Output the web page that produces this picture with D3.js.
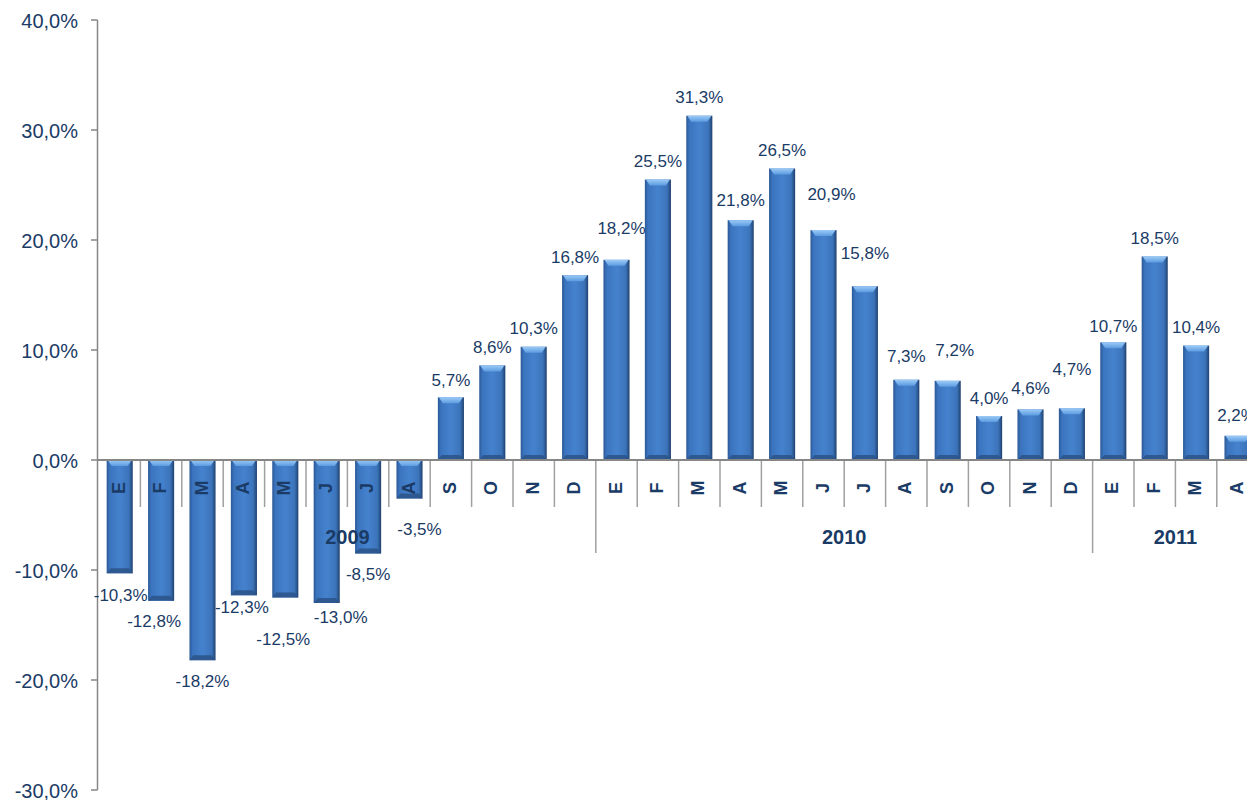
<!DOCTYPE html>
<html>
<head>
<meta charset="utf-8">
<script src="https://cdn.jsdelivr.net/npm/d3@7"></script>
<style>
  html, body { margin: 0; padding: 0; background: #fff; }
  svg { display: block; }
  text { font-family: "Liberation Sans", Arial, sans-serif; }
</style>
</head>
<body>
<svg id="chart" width="1247" height="800"></svg>
<script>
// ---- data ----
const months = ["E","F","M","A","M","J","J","A","S","O","N","D",
                "E","F","M","A","M","J","J","A","S","O","N","D",
                "E","F","M","A"];
const values = [-10.3,-12.8,-18.2,-12.3,-12.5,-13.0,-8.5,-3.5,5.7,8.6,10.3,16.8,
                18.2,25.5,31.3,21.8,26.5,20.9,15.8,7.3,7.2,4.0,4.6,4.7,
                10.7,18.5,10.4,2.2];
const years = ["2009","2010","2011"];
const yearSpans = [12,12,4];
const yTicks = [-30,-20,-10,0,10,20,30,40];
// manual label nudges (layout only) [dx, dy]
const labelNudge = [[1,1],[-7,0],[0,0],[-2,-9],[-2,21],[14,-7],[0,0],[10,10],
                    [0,1],[0,0],[0,0],[0,0],
                    [5,-13],[0,0],[0,0],[0,-2],[0,0],[8,-18],[0,-15],[0,-5],[7,-12],[0,0],[0,-3],[0,-21],
                    [0,2],[0,0],[0,0],[-1,-2]];

const fmt = v => v.toFixed(1).replace(".", ",") + "%";

const svg = d3.select("#chart");
const textColor = "#1A3B66";
const axisColor = "#868686";

const y = d3.scaleLinear().domain([-30, 40]).range([790, 20]);
const x = d3.scaleBand().domain(d3.range(months.length))
  .range([99, 99 + 28 * 41.4]).paddingInner(0.37).paddingOuter(0.185);
const step = x.step();
const x0 = x.range()[0];

// gradients
const defs = svg.append("defs");
const g1 = defs.append("linearGradient").attr("id", "barGrad").attr("x1", "0").attr("x2", "1").attr("y1", "0").attr("y2", "0");
[[0, "#2B5896"], [0.12, "#3B74BE"], [0.5, "#4582CE"], [0.85, "#3C74BA"], [0.93, "#2D5A94"], [1, "#1F3F6C"]]
  .forEach(([o, c]) => g1.append("stop").attr("offset", o).attr("stop-color", c));
const g2 = defs.append("linearGradient").attr("id", "topGrad").attr("x1", "0").attr("x2", "0").attr("y1", "0").attr("y2", "1");
[[0, "#9CCBF7"], [1, "#5C9BE0"]].forEach(([o, c]) => g2.append("stop").attr("offset", o).attr("stop-color", c));

// y axis
svg.append("line").attr("x1", 97.5).attr("x2", 97.5).attr("y1", y(40)).attr("y2", y(-30))
  .attr("stroke", axisColor).attr("stroke-width", 1.5);
svg.selectAll(".ytick").data(yTicks).enter().append("line")
  .attr("x1", 91).attr("x2", 97.5).attr("y1", d => y(d)).attr("y2", d => y(d))
  .attr("stroke", axisColor).attr("stroke-width", 1.5);
svg.selectAll(".ylab").data(yTicks).enter().append("text")
  .attr("x", 78).attr("y", d => y(d) + 1)
  .attr("text-anchor", "end").attr("dominant-baseline", "central")
  .attr("font-size", 20).attr("fill", textColor)
  .text(d => d.toFixed(1).replace(".", ",") + "%");

// category ticks
const boundaries = d3.range(1, months.length + 1);
let cum = 0;
const yearBoundaries = yearSpans.slice(0, -1).map(s => (cum += s));
svg.selectAll(".ctick").data(boundaries).enter().append("line")
  .attr("x1", i => x0 + i * step).attr("x2", i => x0 + i * step)
  .attr("y1", y(0)).attr("y2", i => yearBoundaries.includes(i) ? 553 : 507)
  .attr("stroke", "#A0A0A0").attr("stroke-width", 1.5);

// bars
const bars = svg.selectAll(".bar").data(values).enter().append("g");
bars.append("rect")
  .attr("x", (d, i) => x(i)).attr("width", x.bandwidth())
  .attr("y", d => Math.min(y(d), y(0))).attr("height", d => Math.abs(y(d) - y(0)))
  .attr("fill", "url(#barGrad)");
// top bevel
bars.append("path").attr("d", (d, i) => {
  const xl = x(i), xr = x(i) + x.bandwidth(), t = Math.min(y(d), y(0));
  const h = Math.min(6, Math.abs(y(d) - y(0)) / 2);
  return `M${xl + 1},${t}L${xr - 1},${t}L${xr - 5},${t + h}L${xl + 5},${t + h}Z`;
}).attr("fill", "url(#topGrad)");
// bottom bevel
bars.append("path").attr("d", (d, i) => {
  const xl = x(i), xr = x(i) + x.bandwidth(), b = Math.max(y(d), y(0));
  const h = Math.min(5, Math.abs(y(d) - y(0)) / 2);
  return `M${xl},${b}L${xr},${b}L${xr - 4},${b - h}L${xl + 4},${b - h}Z`;
}).attr("fill", "#2A5287").attr("opacity", 0.85);

// x axis line
svg.append("line").attr("x1", 97.5).attr("x2", 1247).attr("y1", y(0)).attr("y2", y(0))
  .attr("stroke", axisColor).attr("stroke-width", 2);

// month letters
svg.selectAll(".mlab").data(months).enter().append("text")
  .attr("transform", (d, i) => `translate(${x(i) + x.bandwidth() / 2 - 1},488) rotate(-90)`)
  .attr("text-anchor", "middle").attr("dominant-baseline", "central")
  .attr("font-size", 18).attr("font-weight", "bold").attr("fill", textColor)
  .text(d => d);

// year labels
let start = 0;
years.forEach((yr, k) => {
  const a = x0 + start * step, b = x0 + (start + yearSpans[k]) * step;
  svg.append("text").attr("x", (a + b) / 2).attr("y", 537)
    .attr("text-anchor", "middle").attr("dominant-baseline", "central")
    .attr("font-size", 20).attr("font-weight", "bold").attr("fill", textColor)
    .text(yr);
  start += yearSpans[k];
});

// value labels
svg.selectAll(".vlab").data(values).enter().append("text")
  .attr("x", (d, i) => x(i) + x.bandwidth() / 2 + labelNudge[i][0])
  .attr("y", (d, i) => (d >= 0 ? y(d) - 18 : y(d) + 21) + labelNudge[i][1])
  .attr("text-anchor", "middle").attr("dominant-baseline", "central")
  .attr("font-size", 17).attr("fill", textColor)
  .text(d => fmt(d));
</script>
</body>
</html>
